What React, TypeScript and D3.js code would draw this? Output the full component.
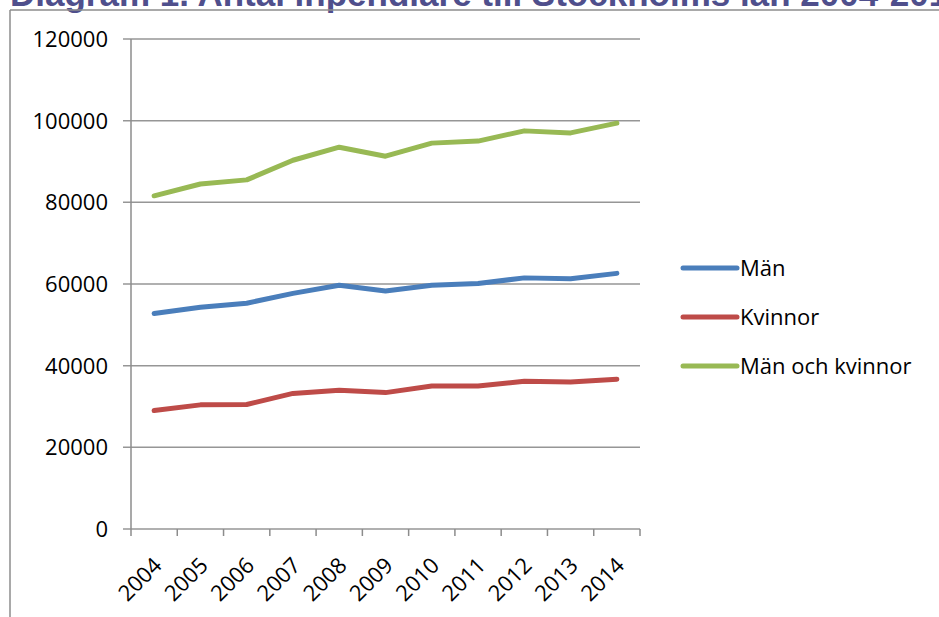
import React from 'react';
import * as d3 from 'd3';

const years = ['2004', '2005', '2006', '2007', '2008', '2009', '2010', '2011', '2012', '2013', '2014'];
const man = [52800, 54300, 55300, 57700, 59700, 58300, 59700, 60100, 61500, 61300, 62600];
const kvinnor = [29000, 30400, 30500, 33200, 34000, 33400, 35000, 35000, 36200, 36000, 36700];
const totalt = [81600, 84500, 85500, 90300, 93500, 91300, 94500, 95000, 97500, 97000, 99400];
const yTicks = [0, 20000, 40000, 60000, 80000, 100000, 120000];

const series = [
  { name: 'Män', values: man, color: '#4a7ebb' },
  { name: 'Kvinnor', values: kvinnor, color: '#be4b48' },
  { name: 'Män och kvinnor', values: totalt, color: '#98b954' },
];

const W = 939;
const H = 617;
const left = 131;
const right = 640;
const top = 39;
const bottom = 529;
const font = '"Open Sans", sans-serif';

export default function App() {
  const x = d3.scaleBand<string>().domain(years).range([left, right]);
  const y = d3.scaleLinear().domain([0, 120000]).range([bottom, top]);
  const cx = (i: number) => (x(years[i]) as number) + x.bandwidth() / 2;

  const line = d3.line<number>()
    .x((_, i) => cx(i))
    .y(d => y(d));

  const edges = years.map(yr => x(yr) as number).concat([right]);

  return (
    <svg width={W} height={H} style={{ position: 'absolute', left: 0, top: 0, background: '#fff' }}>
      <text x={10} y={6} fontFamily='"Liberation Sans", Arial, sans-serif' fontWeight="bold" fontSize={35} fill="#4f4f8c">
        Diagram 1. Antal inpendlare till Stockholms län 2004-2014
      </text>
      <line x1={10} x2={W} y1={10} y2={10} stroke="#8c8c8c" strokeWidth={1.5} />
      <line x1={10} x2={10} y1={10} y2={H} stroke="#8c8c8c" strokeWidth={1.5} />

      {yTicks.map(t => (
        <g key={t}>
          <line x1={123} x2={right} y1={y(t)} y2={y(t)} stroke="#969696" strokeWidth={1.5} />
          <text x={108} y={y(t)} dy="0.36em" textAnchor="end" fontFamily={font} fontSize={22} fill="#000">
            {t}
          </text>
        </g>
      ))}
      <line x1={left} x2={left} y1={top} y2={bottom} stroke="#8c8c8c" strokeWidth={1.5} />
      {edges.map((e, i) => (
        <line key={i} x1={e} x2={e} y1={bottom} y2={bottom + 7} stroke="#8c8c8c" strokeWidth={1.5} />
      ))}
      {years.map((yr, i) => (
        <text
          key={yr}
          transform={`translate(${cx(i) - 2},${bottom + 27}) rotate(-45)`}
          textAnchor="end"
          dy="0.7em"
          fontFamily={font}
          fontSize={22}
          fill="#000"
        >
          {yr}
        </text>
      ))}

      {series.map(s => (
        <path
          key={s.name}
          d={line(s.values) || ''}
          fill="none"
          stroke={s.color}
          strokeWidth={5}
          strokeLinecap="round"
          strokeLinejoin="round"
        />
      ))}

      {series.map((s, i) => {
        const ly = 268 + i * 49;
        return (
          <g key={s.name}>
            <line x1={683} x2={737} y1={ly} y2={ly} stroke={s.color} strokeWidth={5} strokeLinecap="round" />
            <text x={740} y={ly} dy="0.36em" fontFamily={font} fontSize={22} fill="#000">
              {s.name}
            </text>
          </g>
        );
      })}
    </svg>
  );
}
